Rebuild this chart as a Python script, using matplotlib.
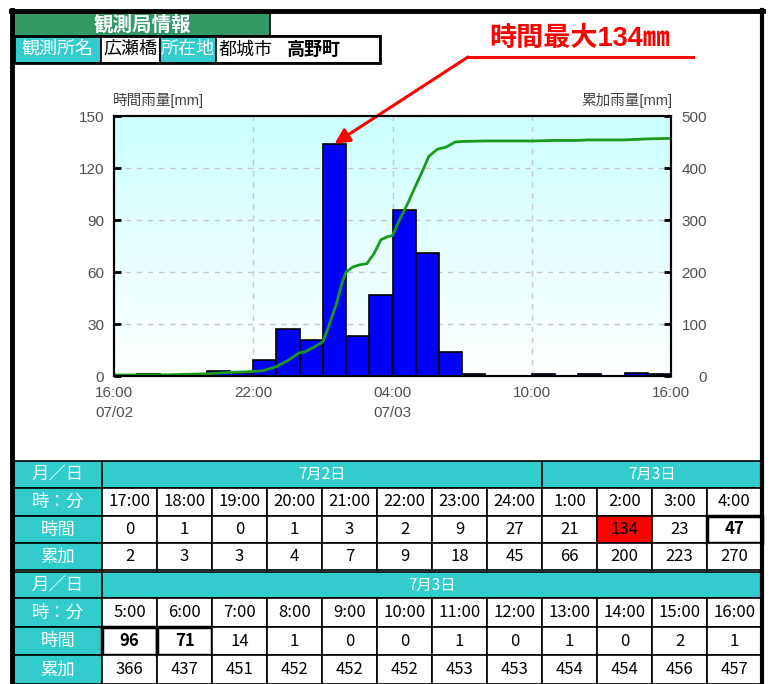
import matplotlib
matplotlib.use('Agg')
import numpy as np
import matplotlib.pyplot as plt
from matplotlib.patches import Rectangle
from matplotlib.colors import LinearSegmentedColormap

plt.rcParams['font.family'] = ['Liberation Sans', 'Noto Sans CJK JP']

# 毎時のデータ (17:00 07/02 ～ 16:00 07/03)
time_labels = ['17:00', '18:00', '19:00', '20:00', '21:00', '22:00', '23:00', '24:00',
               '1:00', '2:00', '3:00', '4:00', '5:00', '6:00', '7:00', '8:00',
               '9:00', '10:00', '11:00', '12:00', '13:00', '14:00', '15:00', '16:00']
hourly_rain = [0, 1, 0, 1, 3, 2, 9, 27, 21, 134, 23, 47,
               96, 71, 14, 1, 0, 0, 1, 0, 1, 0, 2, 1]
cumul_rain = [2, 3, 3, 4, 7, 9, 18, 45, 66, 200, 223, 270,
              366, 437, 451, 452, 452, 452, 453, 453, 454, 454, 456, 457]
date_spans_1 = [('7月2日', 8), ('7月3日', 4)]
date_spans_2 = [('7月3日', 12)]
bold_times = ['4:00', '5:00', '6:00']

# 累加雨量の線 (グラフから読み取った値, 16:00からの経過時間)
line_t = [0, 1, 2, 3, 3.8, 4, 5, 5.7, 6, 6.4, 7, 7.5, 7.9, 8, 8.2, 8.6, 8.9, 9,
          9.2, 9.4, 9.6, 9.8, 10, 10.3, 10.6, 10.9, 11, 11.2, 11.5, 11.8, 12,
          12.3, 12.66, 13, 13.3, 13.56, 13.9, 14, 14.3, 14.7, 15, 16, 17, 18,
          19, 20, 20.4, 21, 22, 23, 24]
line_v = [2, 2, 2, 3, 4, 4, 7, 8, 9, 10, 18, 30, 42, 45, 46, 55, 63, 66,
          89, 115, 141, 175, 200, 210, 214, 216, 223, 235, 262, 268, 270,
          300, 332, 366, 395, 422, 435, 437, 440, 450, 451, 452, 452, 452,
          453, 453, 454, 454, 454, 456, 457]

x_ticks = [0, 6, 12, 18, 24]
x_ticklabels = ['16:00\n07/02', '22:00', '04:00\n07/03', '10:00', '16:00']

GREEN = '#339966'
TEAL = '#33CCCC'
W, H = 771, 684

fig = plt.figure(figsize=(W / 100, H / 100), dpi=100)
bg = fig.add_axes([0, 0, 1, 1])
bg.set_xlim(0, W)
bg.set_ylim(H, 0)
bg.axis('off')


def px_box(x0, y0, x1, y1):
    return [x0 / W, 1 - y1 / H, (x1 - x0) / W, (y1 - y0) / H]


def cell(x0, y0, x1, y1, txt='', fc='white', tc='black', fs=11.5, bold=False,
         lw=1.2, family=None):
    bg.add_patch(Rectangle((x0, y0), x1 - x0, y1 - y0, facecolor=fc,
                           edgecolor='black', lw=lw))
    if txt != '':
        bg.text((x0 + x1) / 2, (y0 + y1) / 2, txt, ha='center', va='center',
                color=tc, fontsize=fs, fontweight='bold' if bold else 'normal',
                family=family)


# 観測局情報
cell(14, 13, 270, 36, '観測局情報', fc=GREEN, tc='white', fs=14, bold=True)
cell(14, 36, 101, 63, '観測所名', fc=TEAL, tc='white', fs=13)
cell(101, 36, 160, 63, '広瀬橋', fs=13)
cell(160, 36, 216, 63, '所在地', fc=TEAL, tc='white', fs=13)
cell(216, 36, 380, 63)
bg.text(219, 50, '都城市', ha='left', va='center', fontsize=13)
bg.text(287, 50, '高野町', ha='left', va='center', fontsize=13, fontweight='bold')
bg.add_patch(Rectangle((14, 36), 366, 27, fill=False, edgecolor='black', lw=2))

# グラフ
ax = fig.add_axes(px_box(114, 116, 671, 376))
cmap = LinearSegmentedColormap.from_list('sky', ['#FFFFFF', '#CCFFFF'])
ax.imshow(np.linspace(0, 1, 256).reshape(-1, 1)[::-1], extent=[0, 24, 0, 150],
          aspect='auto', cmap=cmap, zorder=0)
ax.bar(range(len(hourly_rain)), hourly_rain, width=1, align='edge',
       color='#0000FF', edgecolor='black', lw=1.2, zorder=3)
ax.set_xlim(0, 24)
ax.set_ylim(0, 150)
ax.set_axisbelow(True)
ax.grid(True, color='#C8C8C8', ls=(0, (4, 4)), lw=1)
ax.set_xticks(x_ticks)
ax.set_xticklabels(x_ticklabels, linespacing=1.6)
ax.set_yticks(range(0, 151, 30))
ax.tick_params(axis='x', length=0, pad=7, labelsize=11, labelcolor='#505050')
ax.tick_params(axis='y', direction='in', length=5, width=2, pad=7,
               labelsize=11, labelcolor='#505050')
for s in ax.spines.values():
    s.set_linewidth(1.5)

ax2 = ax.twinx()
ax2.plot(line_t, line_v, color='#1A9A1A', lw=2)
ax2.set_ylim(0, 500)
ax2.set_yticks(range(0, 501, 100))
ax2.tick_params(axis='y', direction='in', length=5, width=2, pad=26,
                labelsize=11, labelcolor='#505050')
for lab in ax2.get_yticklabels():
    lab.set_ha('right')
for s in ax2.spines.values():
    s.set_linewidth(1.5)

bg.text(113, 101, '時間雨量[mm]', ha='left', va='center', fontsize=10.5, color='#404040')
bg.text(672, 101, '累加雨量[mm]', ha='right', va='center', fontsize=10.5, color='#404040')

# 最大値の注記
peak = int(np.argmax(hourly_rain))
ax.annotate('', xy=(peak + 0.5, hourly_rain[peak]), xycoords='data',
            xytext=(468, 57), textcoords=bg.transData, annotation_clip=False,
            arrowprops=dict(arrowstyle='-|>,head_length=0.9,head_width=0.45',
                            color='red', lw=2.2, shrinkA=0, shrinkB=0))
bg.plot([468, 693], [57, 57], color='red', lw=2.2)
bg.text(580, 39, f'時間最大{hourly_rain[peak]}㎜', color='red', fontsize=19.5,
        fontweight='bold', ha='center', va='center')

# 表
NUM_FONT = ['Liberation Sans Narrow', 'Noto Sans CJK JP']
col_x0, col_w = 102, 55


def table(y_rows, start, spans):
    labels = ['月／日', '時：分', '時間', '累加']
    for r in range(4):
        cell(14, y_rows[r], col_x0, y_rows[r + 1], labels[r], fc=TEAL, tc='white', fs=12.5)
    c = 0
    for name, n in spans:
        cell(col_x0 + c * col_w, y_rows[0], col_x0 + (c + n) * col_w, y_rows[1],
             name, fc=TEAL, tc='white', fs=11, family=NUM_FONT)
        c += n
    for j in range(12):
        i = start + j
        x0 = col_x0 + j * col_w
        x1 = x0 + col_w
        cell(x0, y_rows[1], x1, y_rows[2], time_labels[i], fs=12, family=NUM_FONT)
        fc = 'red' if i == peak else 'white'
        heavy = time_labels[i] in bold_times
        cell(x0, y_rows[2], x1, y_rows[3], str(hourly_rain[i]), fc=fc, fs=12,
             bold=heavy, lw=2.5 if heavy else 1.2, family=NUM_FONT)
        cell(x0, y_rows[3], x1, y_rows[4], str(cumul_rain[i]), fs=12, family=NUM_FONT)


table([461, 488, 516, 543, 570], 0, date_spans_1)
table([572, 598, 627, 655, 684], 12, date_spans_2)

# 外枠
bg.plot([12, 12], [10, 684], color='black', lw=3.5)
bg.plot([11, 763], [11, 11], color='black', lw=3.5)
bg.plot([762, 762], [10, 684], color='black', lw=3)

fig.savefig('out.png', dpi=100)
